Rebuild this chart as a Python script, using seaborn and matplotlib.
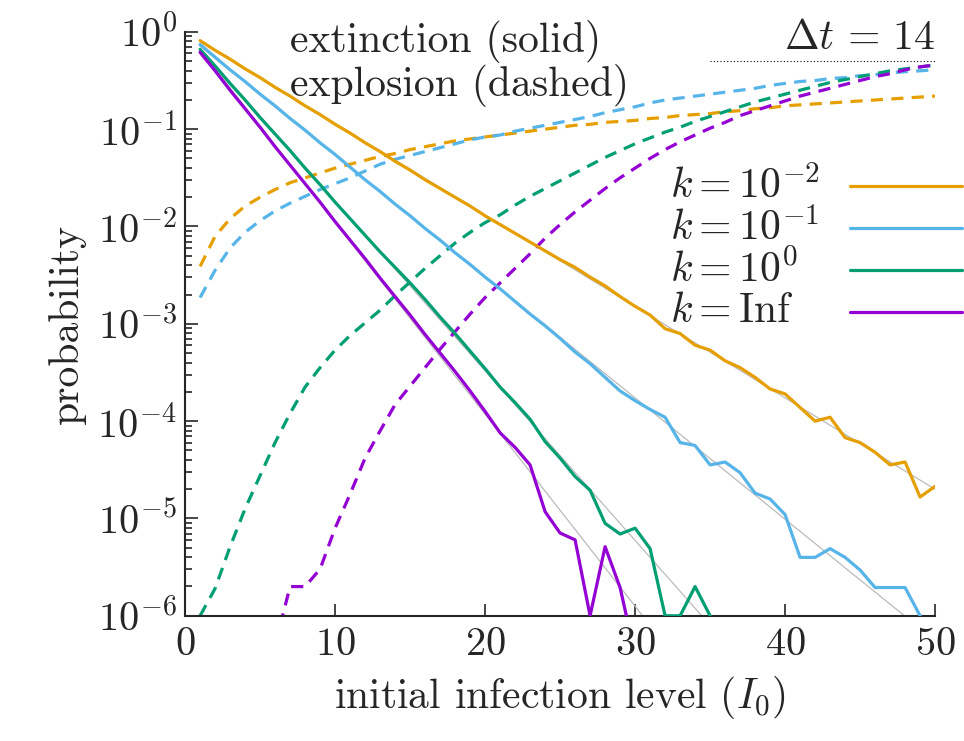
import numpy as np
import matplotlib
matplotlib.use("Agg")
import matplotlib.pyplot as plt
import seaborn as sns
from matplotlib.ticker import LogLocator, LogFormatterMathtext, NullFormatter

# initial infection level
I0 = np.arange(1, 51)

# log10 of extinction probability (solid lines)
ext_k001 = [-0.09, -0.19, -0.28, -0.38, -0.47, -0.57, -0.66, -0.76, -0.85, -0.95,
            -1.04, -1.14, -1.23, -1.33, -1.42, -1.52, -1.61, -1.70, -1.79, -1.89,
            -1.98, -2.07, -2.16, -2.25, -2.34, -2.42, -2.52, -2.61, -2.72, -2.82,
            -2.91, -3.05, -3.10, -3.22, -3.27, -3.38, -3.45, -3.55, -3.67, -3.72,
            -3.86, -4.00, -3.96, -4.17, -4.22, -4.32, -4.45, -4.42, -4.78, -4.67]
ext_k01 = [-0.13, -0.26, -0.39, -0.51, -0.64, -0.76, -0.89, -1.01, -1.14, -1.26,
           -1.39, -1.52, -1.64, -1.77, -1.89, -2.02, -2.14, -2.27, -2.39, -2.52,
           -2.64, -2.77, -2.90, -3.02, -3.15, -3.29, -3.41, -3.55, -3.69, -3.79,
           -3.88, -3.96, -4.22, -4.25, -4.45, -4.42, -4.53, -4.74, -4.80, -4.96,
           -5.40, -5.40, -5.31, -5.40, -5.53, -5.71, -5.71, -5.71, -6.00, np.nan]
ext_k1 = [-0.18, -0.35, -0.53, -0.70, -0.88, -1.05, -1.22, -1.40, -1.57, -1.75,
          -1.92, -2.09, -2.26, -2.42, -2.58, -2.75, -2.93, -3.10, -3.28, -3.46,
          -3.65, -3.81, -3.98, -4.21, -4.38, -4.57, -4.71, -5.05, -5.16, -5.10,
          -5.31, -6.00, -6.00, -5.70, -6.00] + [np.nan] * 15
ext_kinf = [-0.21, -0.40, -0.60, -0.79, -0.98, -1.18, -1.37, -1.56, -1.75, -1.95,
            -2.14, -2.33, -2.53, -2.72, -2.91, -3.11, -3.30, -3.49, -3.69, -3.90,
            -4.12, -4.27, -4.45, -4.93, -5.15, -5.22, -6.00, -5.29, -5.71, -6.40] + [np.nan] * 20

# log10 of explosion probability (dashed lines)
exp_k001 = [-2.41, -2.10, -1.92, -1.79, -1.70, -1.62, -1.55, -1.50, -1.45, -1.40,
            -1.36, -1.32, -1.28, -1.25, -1.21, -1.18, -1.15, -1.12, -1.10, -1.08,
            -1.06, -1.04, -1.02, -1.00, -0.98, -0.96, -0.95, -0.93, -0.92, -0.91,
            -0.89, -0.88, -0.86, -0.85, -0.84, -0.82, -0.81, -0.79, -0.78, -0.76,
            -0.75, -0.74, -0.73, -0.72, -0.71, -0.70, -0.69, -0.68, -0.67, -0.66]
exp_k01 = [-2.73, -2.45, -2.22, -2.06, -1.94, -1.84, -1.76, -1.69, -1.62, -1.56,
           -1.50, -1.43, -1.36, -1.31, -1.27, -1.23, -1.19, -1.15, -1.11, -1.08,
           -1.06, -1.02, -0.99, -0.96, -0.93, -0.90, -0.87, -0.83, -0.80, -0.77,
           -0.73, -0.70, -0.68, -0.66, -0.64, -0.62, -0.60, -0.58, -0.55, -0.53,
           -0.51, -0.50, -0.48, -0.47, -0.45, -0.44, -0.42, -0.41, -0.40, -0.39]
exp_k1 = [-6.00, -5.72, -5.29, -4.90, -4.56, -4.22, -3.92, -3.65, -3.45, -3.27,
          -3.12, -2.99, -2.86, -2.71, -2.57, -2.43, -2.30, -2.17, -2.06, -1.96,
          -1.88, -1.78, -1.69, -1.61, -1.53, -1.45, -1.37, -1.29, -1.22, -1.15,
          -1.09, -1.03, -0.98, -0.92, -0.87, -0.82, -0.77, -0.72, -0.68, -0.64,
          -0.60, -0.56, -0.52, -0.49, -0.46, -0.43, -0.40, -0.38, -0.36, -0.34]
exp_kinf = [np.nan] * 5 + [-6.30, -5.70, -5.70, -5.52, -5.10,
            -4.75, -4.38, -4.10, -3.83, -3.64, -3.45, -3.26, -3.08, -2.90, -2.73,
            -2.58, -2.43, -2.28, -2.12, -1.98, -1.85, -1.73, -1.61, -1.50, -1.40,
            -1.30, -1.21, -1.13, -1.06, -0.99, -0.93, -0.86, -0.81, -0.76, -0.71,
            -0.66, -0.62, -0.58, -0.54, -0.50, -0.46, -0.43, -0.39, -0.36, -0.34]

labels = [r"$k=10^{-2}$", r"$k=10^{-1}$", r"$k=10^{0}$", r"$k=\mathrm{Inf}$"]
colors = ["#E69F00", "#56B4E9", "#009E73", "#9400D3"]
extinction = [ext_k001, ext_k01, ext_k1, ext_kinf]
explosion = [exp_k001, exp_k01, exp_k1, exp_kinf]
dt_value = 14

sns.set_style("ticks")
plt.rcParams["font.family"] = ["cmr10", "DejaVu Serif"]
plt.rcParams["mathtext.fontset"] = "cm"
plt.rcParams["axes.formatter.use_mathtext"] = True
FS = 30

fig = plt.figure(figsize=(9.64, 7.41), dpi=100)
ax = fig.add_axes([0.192, 0.169, 0.778, 0.788])

xfit = np.linspace(1, 50, 200)
for ext, exp_, col in zip(extinction, explosion, colors):
    ext = np.array(ext, dtype=float)
    ok = np.isfinite(ext) & (ext > -5.6)
    coef = np.polyfit(I0[ok], ext[ok], 1)
    ax.plot(xfit, 10 ** np.polyval(coef, xfit), color="#bbbbbb", lw=0.9, zorder=1)
    sns.lineplot(x=I0, y=10 ** ext, color=col, lw=2.3, ax=ax, zorder=3)
    sns.lineplot(x=I0, y=10 ** np.array(exp_, dtype=float), color=col, lw=2.3,
                 linestyle=(0, (3.8, 2.6)), ax=ax, zorder=2)

ax.plot([35, 50], [0.5, 0.5], color="black", lw=0.8, linestyle=(0, (1, 2)))

ax.set_yscale("log")
ax.set_xlim(0, 50)
ax.set_ylim(1e-6, 1)
ax.set_xticks([0, 10, 20, 30, 40, 50])
ax.yaxis.set_major_locator(LogLocator(base=10, numticks=10))
ax.yaxis.set_major_formatter(LogFormatterMathtext())
ax.yaxis.set_minor_locator(LogLocator(base=10, subs=np.arange(2, 10), numticks=10))
ax.yaxis.set_minor_formatter(NullFormatter())
ax.tick_params(which="both", direction="in", labelsize=FS - 1, width=1.2)
ax.tick_params(which="major", length=9)
ax.tick_params(which="minor", length=5)
ax.tick_params(axis="x", pad=8)
ax.tick_params(axis="y", pad=6)
for s in ["top", "right"]:
    ax.spines[s].set_visible(False)
for s in ["left", "bottom"]:
    ax.spines[s].set_linewidth(1.5)

ax.set_xlabel(r"initial infection level $(I_0)$", fontsize=FS, labelpad=8)
ax.set_ylabel("probability", fontsize=FS, labelpad=8)

ax.text(7.0, 1.33, "extinction (solid)\nexplosion (dashed)", fontsize=FS,
        va="top", ha="left", linespacing=1.05)
ax.text(50, 1.33, r"$\Delta t\, =\, %d$" % dt_value, fontsize=FS, va="top", ha="right")

# legend: label on the left, line sample on the right
rows_y = [0.736, 0.664, 0.592, 0.521]
for lab, col, yy in zip(labels, colors, rows_y):
    ax.text(0.647, yy, lab, transform=ax.transAxes, fontsize=FS, va="center", ha="left")
    ax.plot([0.887, 1.036], [yy, yy], transform=ax.transAxes, color=col, lw=2.3,
            clip_on=False)

fig.savefig("out.png", dpi=100)
